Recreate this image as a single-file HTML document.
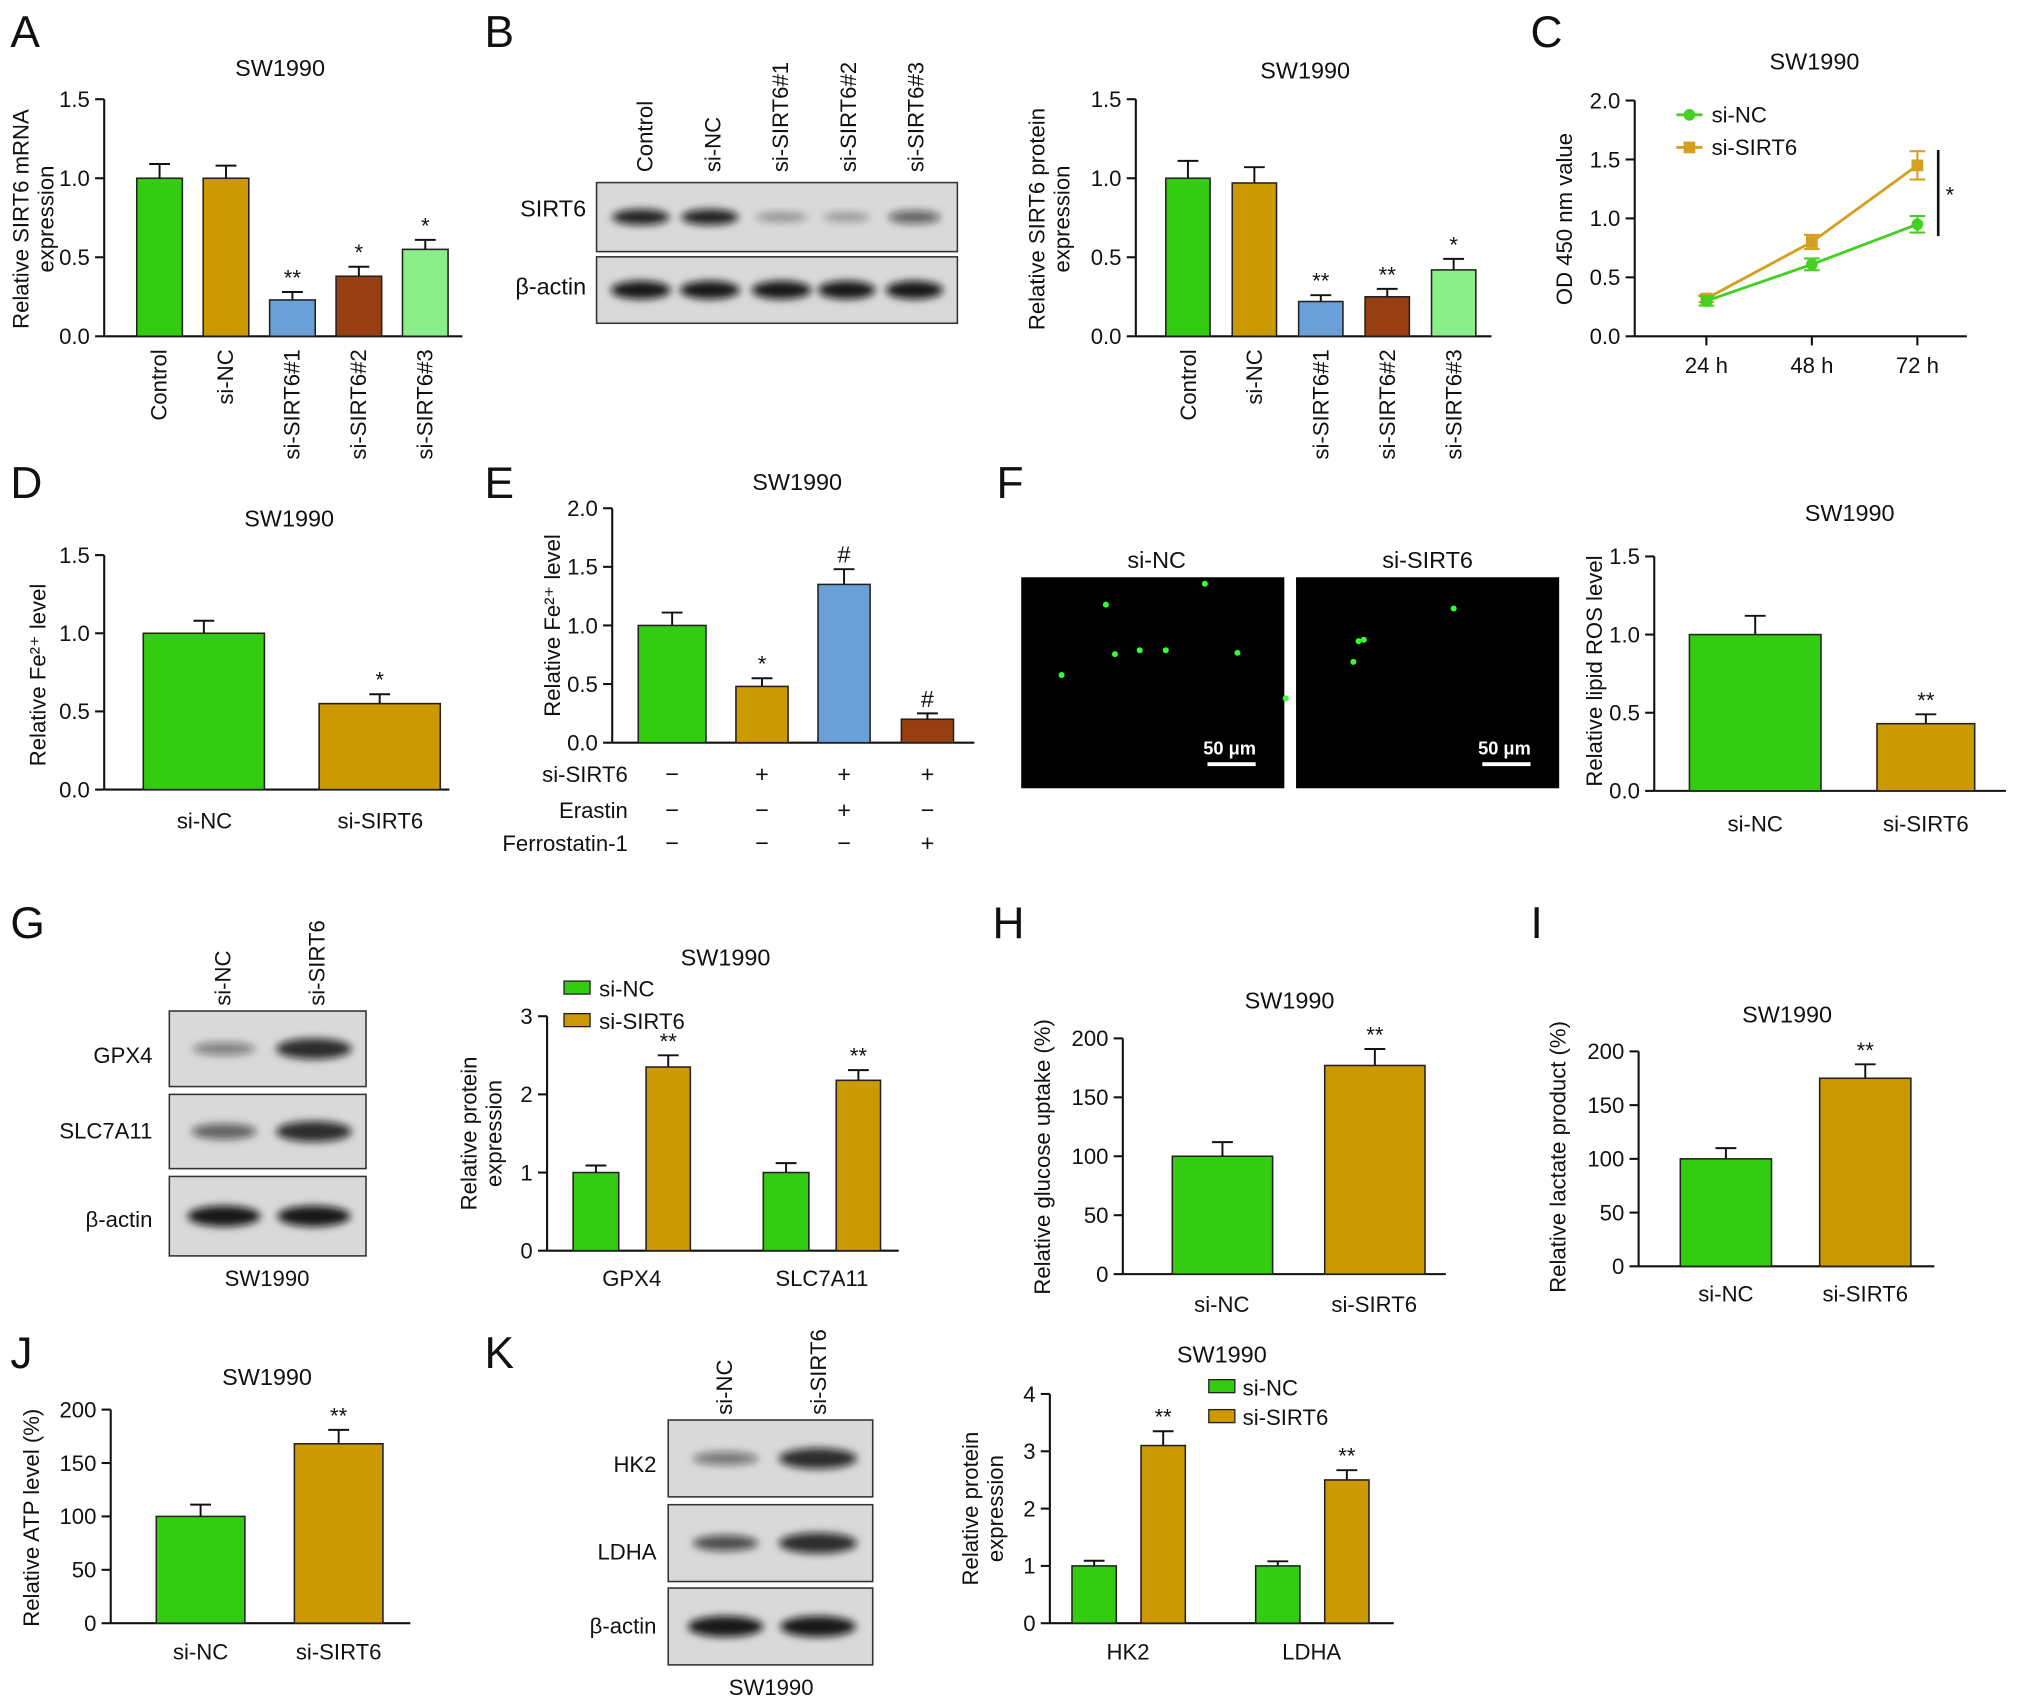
<!DOCTYPE html>
<html><head><meta charset="utf-8">
<style>
html,body{margin:0;padding:0;background:#fff;}
svg{display:block;}
text{font-family:"Liberation Sans",Arial,sans-serif;fill:#111;}
</style></head>
<body>
<svg id="fig" width="2032" height="1699" viewBox="0 0 1560 1304" xmlns="http://www.w3.org/2000/svg">
<defs><filter id="blur" x="-20%" y="-50%" width="140%" height="200%"><feGaussianBlur stdDeviation="3"/></filter></defs>
</svg>
<script>
const GREEN='#33cc11',GOLD='#cc9900',BLUE='#6aa0d8',BROWN='#973f10',LGREEN='#8aef88';
// Panel A
const aCats=['Control','si-NC','si-SIRT6#1','si-SIRT6#2','si-SIRT6#3'];
const aVals=[1.0,1.0,0.23,0.38,0.55];
const aErr=[0.09,0.08,0.05,0.06,0.06];
const aStars=['','','**','*','*'];
// Panel B
const bCats=['Control','si-NC','si-SIRT6#1','si-SIRT6#2','si-SIRT6#3'];
const bVals=[1.0,0.97,0.22,0.25,0.42];
const bErr=[0.11,0.1,0.04,0.05,0.07];
const bStars=['','','**','**','*'];
// Panel C
const cTimes=['24 h','48 h','72 h'];
const cNC=[0.3,0.61,0.95];
const cNCerr=[0.04,0.05,0.07];
const cSI=[0.32,0.8,1.45];
const cSIerr=[0.03,0.06,0.12];
// Panel D
const dCats=['si-NC','si-SIRT6'];const dVals=[1.0,0.55];const dErr=[0.08,0.06];const dStars=['','*'];
// Panel E
const eVals=[1.0,0.48,1.35,0.2];const eErr=[0.11,0.07,0.13,0.05];const eStars=['','*','#','#'];
// Panel F
const fCats=['si-NC','si-SIRT6'];const fVals=[1.0,0.43];const fErr=[0.12,0.06];const fStars=['','**'];
// Panel G
const gCats=['GPX4','SLC7A11'];const gNC=[1.0,1.0];const gSI=[2.35,2.18];const gNCerr=[0.09,0.12];const gSIerr=[0.15,0.13];
// Panel H
const hVals=[100,177];const hErr=[12,14];
// Panel I
const iVals=[100,175];const iErr=[10,13];
// Panel J
const jVals=[100,168];const jErr=[11,13];
// Panel K
const kCats=['HK2','LDHA'];const kNC=[1.0,1.0];const kSI=[3.1,2.5];const kNCerr=[0.09,0.08];const kSIerr=[0.25,0.17];

const svg=document.getElementById('fig');
const NS='http://www.w3.org/2000/svg';
function el(tag,attrs,parent){const e=document.createElementNS(NS,tag);for(const k in attrs)e.setAttribute(k,attrs[k]);(parent||svg).appendChild(e);return e;}
function txt(x,y,s,size,anchor,name,extra){const t=el('text',Object.assign({x:x,y:y,'font-size':size,'text-anchor':anchor||'middle'},extra||{}));t.textContent=s;


return t;}
function line(x1,y1,x2,y2,w,name){const l=el('line',{x1,y1,x2,y2,stroke:'#111','stroke-width':w||1.6});


return l;}
function panelLetter(x,y,s){txt(x,y,s,34,'start','panel-label-'+s.toLowerCase());}

// generic y axis
function yAxis(o){ // o: x, y0, y1, min, max, ticks, labels, xEnd, title lines
  const sc=v=>o.y0-(v-o.min)/(o.max-o.min)*(o.y0-o.y1);
  line(o.x,o.y0,o.x,sc(o.max),1.6,o.id+'-y-axis');
  o.ticks.forEach((t,i)=>{line(o.x-7,sc(t),o.x,sc(t),1.6,o.id+'-y-tick');txt(o.x-11,sc(t)+6,o.labels[i],17,'end',o.id+'-y-tick-label');});
  line(o.x,o.y0,o.xEnd,o.y0,1.6,o.id+'-x-axis');
  return sc;
}
function bar(sc,x,w,v,e,color,star,id){
  const r=el('rect',{x:x,y:sc(v),width:w,height:sc(0)-sc(v),fill:color,stroke:'#222','stroke-width':1.2});
  
  
  const cx=x+w/2;
  line(cx,sc(v),cx,sc(v+e),1.5,id+'-error');line(cx-8,sc(v+e),cx+8,sc(v+e),1.5,id+'-error-cap');
  if(star)txt(cx,sc(v+e)-5,star,star=='#'?18:17,'middle',id+'-sig');
}
function ytitle(x,y,lines,id){lines.forEach((s,i)=>{txt(0,0,s,17,'middle',id+'-y-title',{transform:`translate(${x+i*19},${y}) rotate(-90)`});});}
function rotLabel(x,y,s,id){txt(0,0,s,17,'end',id,{transform:`translate(${x+6},${y}) rotate(-90)`});}
function blot(x,y,w,h,bands,id){
  const r=el('rect',{x,y,width:w,height:h,fill:'#d9d9d9',stroke:'#333','stroke-width':1.2});
  
  
  bands.forEach(b=>{const e=el('ellipse',{cx:b[0],cy:y+h/2,rx:b[1],ry:b[2],fill:'#111','fill-opacity':b[3],filter:'url(#blur)'});
  
  });
}

// ===== A
panelLetter(8,36,'A');txt(215,58,'SW1990',18,'middle','a-title');
(function(){const sc=yAxis({id:'a',x:80,y0:258,y1:76,min:0,max:1.5,ticks:[0,0.5,1,1.5],labels:['0.0','0.5','1.0','1.5'],xEnd:355});
const cols=[GREEN,GOLD,BLUE,BROWN,LGREEN];
aCats.forEach((c,i)=>{const x=105+i*51;bar(sc,x,35,aVals[i],aErr[i],cols[i],aStars[i],'a-bar-'+i);rotLabel(x+17,268,c,'a-x-label');});
ytitle(22,168,['Relative SIRT6 mRNA','expression'],'a');})();

// ===== B
panelLetter(372,36,'B');
bCats.forEach((c,i)=>{const x=495+i*52;txt(0,0,c,17,'start','b-blot-lane-label',{transform:`translate(${x+6},132) rotate(-90)`});});
txt(450,166,'SIRT6',18,'end','b-blot-sirt6-label');txt(450,226,'β-actin',18,'end','b-blot-actin-label');
blot(458,140,277,53,[[492,22,6,0.9],[545,22,6,0.9],[600,20,4,0.3],[650,18,4,0.28],[702,20,5,0.6]],'b-blot-sirt6');
blot(458,197,277,51,[[492,23,7,0.95],[545,23,7,0.95],[600,23,7,0.95],[650,22,7,0.95],[702,22,7,0.95]],'b-blot-actin');
txt(1002,60,'SW1990',18,'middle','b-title');
(function(){const sc=yAxis({id:'b',x:872,y0:258,y1:76,min:0,max:1.5,ticks:[0,0.5,1,1.5],labels:['0.0','0.5','1.0','1.5'],xEnd:1145});
const cols=[GREEN,GOLD,BLUE,BROWN,LGREEN];
bCats.forEach((c,i)=>{const x=895+i*51;bar(sc,x,34,bVals[i],bErr[i],cols[i],bStars[i],'b-bar-'+i);rotLabel(x+17,268,c,'b-x-label');});
ytitle(802,168,['Relative SIRT6 protein','expression'],'b');})();

// ===== C
panelLetter(1175,36,'C');txt(1393,53,'SW1990',18,'middle','c-title');
(function(){const sc=yAxis({id:'c',x:1255,y0:258,y1:77,min:0,max:2,ticks:[0,0.5,1,1.5,2],labels:['0.0','0.5','1.0','1.5','2.0'],xEnd:1510});
const xs=i=>1310+i*81;
cTimes.forEach((t,i)=>{line(xs(i),258,xs(i),265,1.6,'c-x-tick');txt(xs(i),286,t,17,'middle','c-x-label');});
function series(vals,errs,color,name){
  const p=el('polyline',{points:vals.map((v,i)=>xs(i)+','+sc(v)).join(' '),fill:'none',stroke:color,'stroke-width':2.2});
  
  
  vals.forEach((v,i)=>{const l=el('line',{x1:xs(i),y1:sc(v-errs[i]),x2:xs(i),y2:sc(v+errs[i]),stroke:color,'stroke-width':1.6});
  
  
  [v-errs[i],v+errs[i]].forEach(q=>{const c=el('line',{x1:xs(i)-6,y1:sc(q),x2:xs(i)+6,y2:sc(q),stroke:color,'stroke-width':1.6});
  
  });
  const m=el(name=='c-si-nc'?'circle':'rect',name=='c-si-nc'?{cx:xs(i),cy:sc(v),r:4.5,fill:color}:{x:xs(i)-4.5,y:sc(v)-4.5,width:9,height:9,fill:color});
  
  });
}
series(cSI,cSIerr,'#d4a020','c-si-sirt6');series(cNC,cNCerr,'#44d022','c-si-nc');
line(1488,sc(0.85),1488,sc(1.58),2,'c-sig-bracket');txt(1497,sc(1.2)+6,'*',17,'middle','c-sig');
const l1=el('line',{x1:1287,y1:88,x2:1307,y2:88,stroke:'#44d022','stroke-width':2.2});
const c1=el('circle',{cx:1297,cy:88,r:4.5,fill:'#44d022'});
txt(1314,94,'si-NC',17,'start','c-legend-nc');
const l2=el('line',{x1:1287,y1:113,x2:1307,y2:113,stroke:'#d4a020','stroke-width':2.2});
const r2=el('rect',{x:1292.5,y:108.5,width:9,height:9,fill:'#d4a020'});
txt(1314,119,'si-SIRT6',17,'start','c-legend-si');
ytitle(1207,168,['OD 450 nm value'],'c');})();

// ===== D
panelLetter(8,382,'D');txt(222,404,'SW1990',18,'middle','d-title');
(function(){const sc=yAxis({id:'d',x:80,y0:606,y1:426,min:0,max:1.5,ticks:[0,0.5,1,1.5],labels:['0.0','0.5','1.0','1.5'],xEnd:345});
const cols=[GREEN,GOLD];const xs=[110,245];
dCats.forEach((c,i)=>{bar(sc,xs[i],93,dVals[i],dErr[i],cols[i],dStars[i],'d-bar-'+i);txt(xs[i]+47,636,c,17,'middle','d-x-label');});
ytitle(35,518,['Relative Fe²⁺ level'],'d');})();

// ===== E
panelLetter(372,382,'E');txt(612,376,'SW1990',18,'middle','e-title');
(function(){const sc=yAxis({id:'e',x:470,y0:570,y1:390,min:0,max:2,ticks:[0,0.5,1,1.5,2],labels:['0.0','0.5','1.0','1.5','2.0'],xEnd:748});
const cols=[GREEN,GOLD,BLUE,BROWN];const xs=[490,565,628,692];const ws=[52,40,40,40];
eVals.forEach((v,i)=>bar(sc,xs[i],ws[i],v,eErr[i],cols[i],eStars[i],'e-bar-'+i));
ytitle(430,480,['Relative Fe²⁺ level'],'e');
const rows=[['si-SIRT6',['−','+','+','+'],600],['Erastin',['−','−','+','−'],628],['Ferrostatin-1',['−','−','−','+'],653]];
const cx=[516,585,648,712];
rows.forEach(r=>{txt(482,r[2],r[0],17,'end','e-table-row-label');r[1].forEach((s,i)=>txt(cx[i],r[2],s,18,'middle','e-table-cell'));});})();

// ===== F
panelLetter(765,382,'F');
txt(888,436,'si-NC',18,'middle','f-image-title-nc');txt(1096,436,'si-SIRT6',18,'middle','f-image-title-si');
[[784,'f-image-nc'],[995,'f-image-si']].forEach(p=>{const r=el('rect',{x:p[0],y:443,width:202,height:162,fill:'#000'});
txt(p[0]+160,579,'50 μm',14,'middle',p[1]+'-scale-label',{fill:'#fff',style:'fill:#fff;font-weight:bold'});
const s=el('rect',{x:p[0]+143,y:585,width:37,height:3,fill:'#fff'});});
[[849,464],[875,499],[895,499],[815,518],[950,501],[925,448],[856,502],[1039,508],[1047,491],[1116,467],[987,536],[1043,492]].forEach(d=>{const c=el('circle',{cx:d[0],cy:d[1],r:2.3,fill:'#3f3'});});
txt(1420,400,'SW1990',18,'middle','f-title');
(function(){const sc=yAxis({id:'f',x:1270,y0:607,y1:427,min:0,max:1.5,ticks:[0,0.5,1,1.5],labels:['0.0','0.5','1.0','1.5'],xEnd:1540});
const cols=[GREEN,GOLD];const xs=[1297,1441];const ws=[101,75];
fCats.forEach((c,i)=>{bar(sc,xs[i],ws[i],fVals[i],fErr[i],cols[i],fStars[i],'f-bar-'+i);txt(xs[i]+ws[i]/2,638,c,17,'middle','f-x-label');});
ytitle(1230,515,['Relative lipid ROS level'],'f');})();

// ===== G
panelLetter(8,720,'G');
txt(0,0,'si-NC',17,'start','g-lane-label',{transform:'translate(177,772) rotate(-90)'});
txt(0,0,'si-SIRT6',17,'start','g-lane-label',{transform:'translate(249,772) rotate(-90)'});
txt(117,816,'GPX4',17,'end','g-blot-gpx4-label');txt(117,874,'SLC7A11',17,'end','g-blot-slc-label');txt(117,942,'β-actin',17,'end','g-blot-actin-label');
blot(130,776,151,58,[[172,24,5,0.45],[241,29,8,0.85]],'g-blot-gpx4');
blot(130,840,151,57,[[172,25,6,0.6],[241,29,8,0.85]],'g-blot-slc7a11');
blot(130,903,151,61,[[172,28,8,0.95],[241,28,8,0.95]],'g-blot-actin');
txt(205,987,'SW1990',17,'middle','g-blot-caption');
txt(557,741,'SW1990',18,'middle','g-title');
(function(){const sc=yAxis({id:'g',x:420,y0:960,y1:780,min:0,max:3,ticks:[0,1,2,3],labels:['0','1','2','3'],xEnd:690});
const x0=[440,586];
gCats.forEach((c,i)=>{bar(sc,x0[i],35,gNC[i],gNCerr[i],GREEN,'','g-bar-nc-'+i);bar(sc,x0[i]+56,34,gSI[i],gSIerr[i],GOLD,'**','g-bar-si-'+i);txt(x0[i]+45,987,c,17,'middle','g-x-label');});
const a=el('rect',{x:433,y:753,width:20,height:10,fill:GREEN,stroke:'#222'});txt(460,765,'si-NC',17,'start','g-legend-nc');
const b=el('rect',{x:433,y:778,width:20,height:10,fill:GOLD,stroke:'#222'});txt(460,790,'si-SIRT6',17,'start','g-legend-si');
ytitle(366,870,['Relative protein','expression'],'g');})();

// ===== H
panelLetter(762,720,'H');txt(990,774,'SW1990',18,'middle','h-title');
(function(){const sc=yAxis({id:'h',x:862,y0:978,y1:797,min:0,max:200,ticks:[0,50,100,150,200],labels:['0','50','100','150','200'],xEnd:1110});
const xs=[900,1017],cats=['si-NC','si-SIRT6'],cols=[GREEN,GOLD],st=['','**'];
hVals.forEach((v,i)=>{bar(sc,xs[i],77,v,hErr[i],cols[i],st[i],'h-bar-'+i);txt(xs[i]+38,1007,cats[i],17,'middle','h-x-label');});
ytitle(806,888,['Relative glucose uptake (%)'],'h');})();

// ===== I
panelLetter(1175,720,'I');txt(1372,785,'SW1990',18,'middle','i-title');
(function(){const sc=yAxis({id:'i',x:1258,y0:972,y1:807,min:0,max:200,ticks:[0,50,100,150,200],labels:['0','50','100','150','200'],xEnd:1485});
const xs=[1290,1397],cats=['si-NC','si-SIRT6'],cols=[GREEN,GOLD],st=['','**'];
iVals.forEach((v,i)=>{bar(sc,xs[i],70,v,iErr[i],cols[i],st[i],'i-bar-'+i);txt(xs[i]+35,999,cats[i],17,'middle','i-x-label');});
ytitle(1202,888,['Relative lactate product (%)'],'i');})();

// ===== J
panelLetter(8,1050,'J');txt(205,1063,'SW1990',18,'middle','j-title');
(function(){const sc=yAxis({id:'j',x:85,y0:1246,y1:1082,min:0,max:200,ticks:[0,50,100,150,200],labels:['0','50','100','150','200'],xEnd:315});
const xs=[120,226],cats=['si-NC','si-SIRT6'],cols=[GREEN,GOLD],st=['','**'];
jVals.forEach((v,i)=>{bar(sc,xs[i],68,v,jErr[i],cols[i],st[i],'j-bar-'+i);txt(xs[i]+34,1274,cats[i],17,'middle','j-x-label');});
ytitle(30,1165,['Relative ATP level (%)'],'j');})();

// ===== K
panelLetter(372,1050,'K');
txt(0,0,'si-NC',17,'start','k-lane-label',{transform:'translate(562,1086) rotate(-90)'});
txt(0,0,'si-SIRT6',17,'start','k-lane-label',{transform:'translate(634,1086) rotate(-90)'});
txt(504,1130,'HK2',17,'end','k-blot-hk2-label');txt(504,1197,'LDHA',17,'end','k-blot-ldha-label');txt(504,1254,'β-actin',17,'end','k-blot-actin-label');
blot(513,1090,157,59,[[557,25,5,0.5],[628,30,8,0.85]],'k-blot-hk2');
blot(513,1155,157,59,[[557,25,6,0.7],[628,30,8,0.85]],'k-blot-ldha');
blot(513,1219,157,59,[[557,29,8,0.95],[628,29,8,0.95]],'k-blot-actin');
txt(592,1301,'SW1990',17,'middle','k-blot-caption');
txt(938,1046,'SW1990',18,'middle','k-title');
(function(){const sc=yAxis({id:'k',x:806,y0:1246,y1:1070,min:0,max:4,ticks:[0,1,2,3,4],labels:['0','1','2','3','4'],xEnd:1070});
const x0=[823,964];
kCats.forEach((c,i)=>{bar(sc,x0[i],34,kNC[i],kNCerr[i],GREEN,'','k-bar-nc-'+i);bar(sc,x0[i]+53,34,kSI[i],kSIerr[i],GOLD,'**','k-bar-si-'+i);txt(x0[i]+43,1274,c,17,'middle','k-x-label');});
const a=el('rect',{x:928,y:1059,width:20,height:10,fill:GREEN,stroke:'#222'});txt(954,1071,'si-NC',17,'start','k-legend-nc');
const b=el('rect',{x:928,y:1082,width:20,height:10,fill:GOLD,stroke:'#222'});txt(954,1094,'si-SIRT6',17,'start','k-legend-si');
ytitle(751,1158,['Relative protein','expression'],'k');})();
</script>
</body></html>
